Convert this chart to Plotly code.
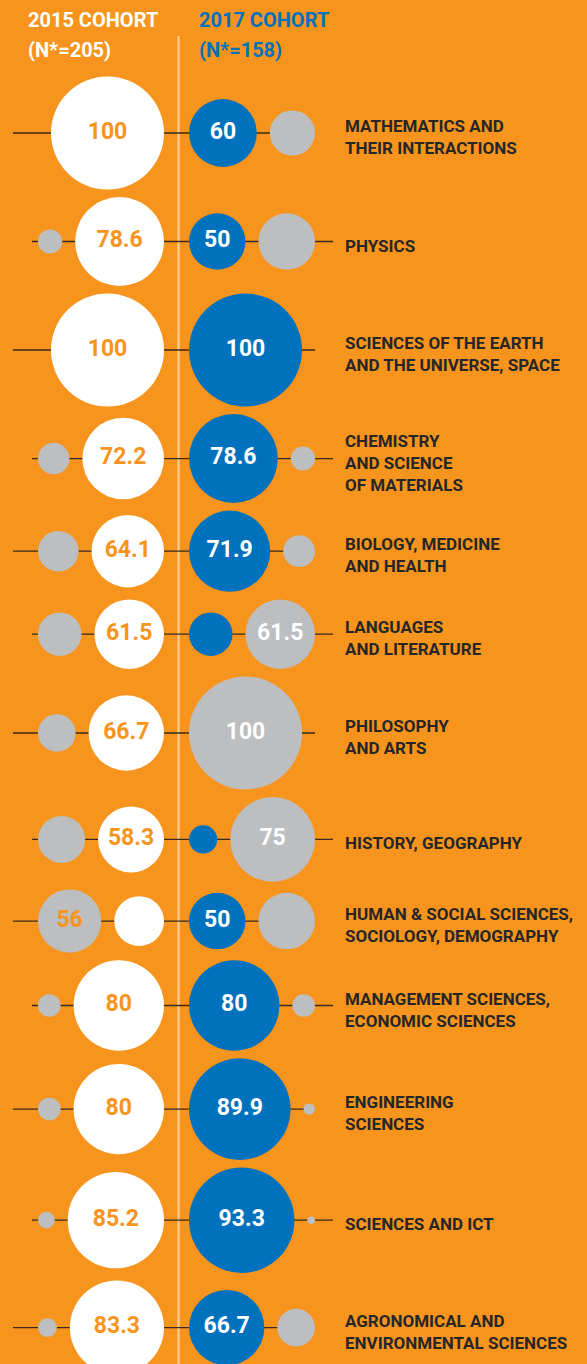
import plotly.graph_objects as go

# ---------------- data ----------------
disciplines = [
    "MATHEMATICS AND<br>THEIR INTERACTIONS",
    "PHYSICS",
    "SCIENCES OF THE EARTH<br>AND THE UNIVERSE, SPACE",
    "CHEMISTRY<br>AND SCIENCE<br>OF MATERIALS",
    "BIOLOGY, MEDICINE<br>AND HEALTH",
    "LANGUAGES<br>AND LITERATURE",
    "PHILOSOPHY<br>AND ARTS",
    "HISTORY, GEOGRAPHY",
    "HUMAN & SOCIAL SCIENCES,<br>SOCIOLOGY, DEMOGRAPHY",
    "MANAGEMENT SCIENCES,<br>ECONOMIC SCIENCES",
    "ENGINEERING<br>SCIENCES",
    "SCIENCES AND ICT",
    "AGRONOMICAL AND<br>ENVIRONMENTAL SCIENCES",
]
pct_2015 = [100, 78.6, 100, 72.2, 64.1, 61.5, 66.7, 58.3, 44, 80, 80, 85.2, 83.3]
pct_2017 = [60, 50, 100, 78.6, 71.9, 38.5, 0, 25, 50, 80, 89.9, 93.3, 66.7]
cohort_titles = ["2015 COHORT", "2017 COHORT"]
cohort_n = ["(N*=205)", "(N*=158)"]

# ---------------- style / layout ----------------
W, H = 587, 1364
ORANGE = "#F7941D"
BLUE = "#0071BC"
GREY = "#BCBEC0"
WHITE = "#FFFFFF"
DARK = "#262626"
FONT = "Roboto, sans-serif"

PX_PER_PCT = 1.13      # circle diameter per percentage point
GAP = 13               # gap between the two circles of a cohort
LEFT_RIGHT_EDGE = 164  # right edge of the 2015 white circle
RIGHT_LEFT_EDGE = 189  # left edge of the 2017 blue circle
FIRST_Y = 133
ROW_GAP = 7.6
LABEL_X = 343


def fmt(v):
    v = round(v, 1)
    return str(int(v)) if v == int(v) else f"{v:.1f}"


n = len(disciplines)
grey15 = [round(100 - p, 1) for p in pct_2015]
grey17 = [round(100 - p, 1) for p in pct_2017]

# row positions derived from circle sizes
row_r = [max(a, b, c, d) * PX_PER_PCT / 2 for a, b, c, d in zip(pct_2015, grey15, pct_2017, grey17)]
ys = [FIRST_Y]
for i in range(1, n):
    ys.append(ys[-1] + row_r[i - 1] + row_r[i] + ROW_GAP)

fig = go.Figure()

# horizontal connector lines
lx, ly = [], []
for i, y in enumerate(ys):
    if i % 2 == 0:
        lx += [13, 315, None]
    else:
        lx += [32, 333, None]
    ly += [y, y, None]
fig.add_trace(go.Scatter(x=lx, y=ly, mode="lines", line=dict(color="#3b2a18", width=1.3),
                         hoverinfo="skip", showlegend=False))

# circles
wx, wy, ws = [], [], []
glx, gly, gls = [], [], []
bx, by, bs = [], [], []
grx, gry, grs = [], [], []
txt_o = dict(x=[], y=[], t=[])
txt_w = dict(x=[], y=[], t=[])
for i, y in enumerate(ys):
    dw = pct_2015[i] * PX_PER_PCT
    dg = grey15[i] * PX_PER_PCT
    cw = LEFT_RIGHT_EDGE - dw / 2
    cg = LEFT_RIGHT_EDGE - dw - (GAP if dw > 0 else 0) - dg / 2
    if dw > 0:
        wx.append(cw); wy.append(y); ws.append(dw)
    if dg > 0:
        glx.append(cg); gly.append(y); gls.append(dg)
    if pct_2015[i] >= grey15[i]:
        txt_o["x"].append(cw); txt_o["y"].append(y); txt_o["t"].append(fmt(pct_2015[i]))
    else:
        txt_o["x"].append(cg); txt_o["y"].append(y); txt_o["t"].append(fmt(grey15[i]))

    db = pct_2017[i] * PX_PER_PCT
    dg2 = grey17[i] * PX_PER_PCT
    cb = RIGHT_LEFT_EDGE + db / 2
    cg2 = RIGHT_LEFT_EDGE + db + (GAP if db > 0 else 0) + dg2 / 2
    if db > 0:
        bx.append(cb); by.append(y); bs.append(db)
    if dg2 > 0:
        grx.append(cg2); gry.append(y); grs.append(dg2)
    if pct_2017[i] >= grey17[i]:
        txt_w["x"].append(cb); txt_w["y"].append(y); txt_w["t"].append(fmt(pct_2017[i]))
    else:
        txt_w["x"].append(cg2); txt_w["y"].append(y); txt_w["t"].append(fmt(grey17[i]))

for xs_, ys_, ss_, col in [(glx, gly, gls, GREY), (wx, wy, ws, WHITE),
                           (bx, by, bs, BLUE), (grx, gry, grs, GREY)]:
    fig.add_trace(go.Scatter(x=xs_, y=ys_, mode="markers",
                             marker=dict(size=ss_, color=col, line=dict(width=0), opacity=1),
                             hoverinfo="skip", showlegend=False))

for d, col in [(txt_o, ORANGE), (txt_w, WHITE)]:
    fig.add_trace(go.Scatter(x=d["x"], y=d["y"], text=d["t"], mode="text",
                             textposition="middle center",
                             textfont=dict(family=FONT, size=23, color=col, weight="bold"),
                             hoverinfo="skip", showlegend=False))

# divider
fig.add_shape(type="line", x0=178.5, x1=178.5, y0=36, y1=H, xref="x", yref="y",
              line=dict(color="#FCD3A1", width=2), layer="below")

annotations = []
for lab, y in zip(disciplines, ys):
    annotations.append(dict(x=LABEL_X, y=y + 4, xref="x", yref="y", text=lab, showarrow=False,
                            xanchor="left", yanchor="middle", align="left",
                            font=dict(family=FONT, size=17, color=DARK, weight="bold")))
for k, (title, nn) in enumerate(zip(cohort_titles, cohort_n)):
    col = WHITE if k == 0 else BLUE
    x0 = 26 if k == 0 else 197
    annotations.append(dict(x=x0, y=20, xref="x", yref="y", text=title, showarrow=False,
                            xanchor="left", yanchor="middle",
                            font=dict(family=FONT, size=20, color=col, weight="bold")))
    annotations.append(dict(x=x0, y=50, xref="x", yref="y", text=nn, showarrow=False,
                            xanchor="left", yanchor="middle",
                            font=dict(family=FONT, size=20, color=col, weight="bold")))

fig.update_layout(
    width=W, height=H,
    margin=dict(l=0, r=0, t=0, b=0),
    paper_bgcolor=ORANGE, plot_bgcolor=ORANGE,
    xaxis=dict(range=[0, W], visible=False, fixedrange=True),
    yaxis=dict(range=[H, 0], visible=False, fixedrange=True),
    annotations=annotations,
    showlegend=False,
)

fig.write_html("out.html", config={"displayModeBar": False},
               post_script="document.body.style.margin='0';")
